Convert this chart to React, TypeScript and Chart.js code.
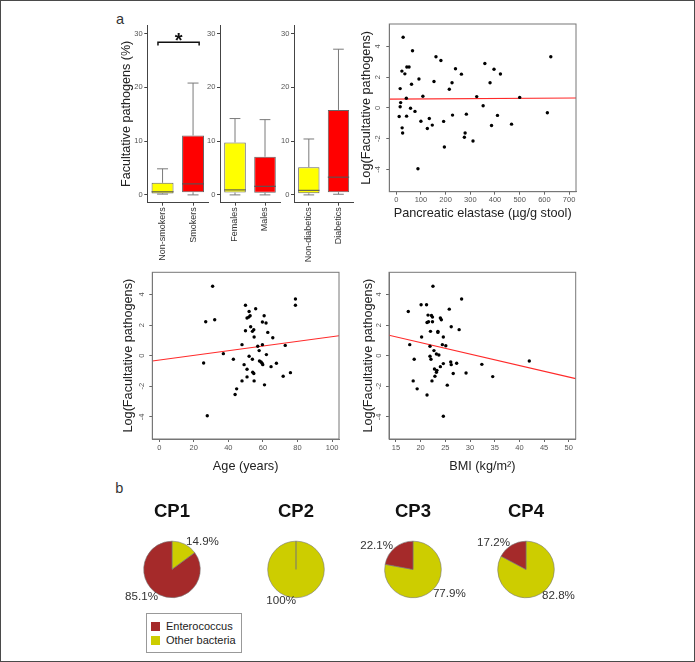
import React, { useEffect, useRef } from "react";
import { Chart, registerables } from "chart.js";

Chart.register(...registerables);

const FONT = "'Liberation Sans', Arial, Helvetica, sans-serif";
Chart.defaults.font.family = FONT;

// ---------- Panel a: box plots (Facultative pathogens %) ----------
const smokeCats = ["Non-smokers", "Smokers"];
const smokeMin = [0.15, 0.0];
const smokeQ1 = [0.28, 0.5];
const smokeMed = [0.58, 2.05];
const smokeQ3 = [2.25, 11.05];
const smokeMax = [4.85, 20.8];

const sexCats = ["Females", "Males"];
const sexMin = [0.0, 0.0];
const sexQ1 = [0.43, 0.4];
const sexMed = [0.93, 1.6];
const sexQ3 = [9.75, 7.1];
const sexMax = [14.2, 14.0];

const diabCats = ["Non-diabetics", "Diabetics"];
const diabMin = [0.0, 0.12];
const diabQ1 = [0.3, 0.5];
const diabMed = [0.85, 3.3];
const diabQ3 = [5.15, 15.8];
const diabMax = [10.4, 27.1];

const boxColors = ["#ffff00", "#ff0000"];
const boxTicks = [0, 10, 20, 30];
const boxRange = [-1.45, 31.6];
const sigFrom = -0.15;
const sigTo = 1.2;
const sigLevel = 28.4;
const sigLabel = "*";

// ---------- Scatter: pancreatic elastase ----------
const elastaseX = [28, 66, 161, 181, 43, 52, 23, 35, 92, 62, 16, 108, 41, 18, 16, 12, 42, 58, 76, 24, 26, 100, 134, 126, 146, 88, 153, 215, 226, 240, 264, 192, 228, 195, 279, 276, 284, 311, 326, 352, 359, 396, 380, 422, 410, 386, 467, 500, 612, 626];
const elastaseY = [4.59, 3.71, 3.32, 3.08, 2.66, 2.66, 2.39, 2.21, 1.88, 1.53, 1.25, 0.75, 0.62, 0.34, 0.07, -0.56, -0.54, -0.03, -0.23, -1.3, -1.63, -0.87, -0.69, -1.34, -1.12, -3.96, 1.71, 1.21, 1.63, 2.54, 2.19, -0.88, -0.47, -2.54, -1.63, -1.91, -0.41, -2.15, 0.73, 0.14, 2.88, 2.51, 1.63, 2.2, -0.49, -1.15, -1.06, 0.68, -0.32, 3.32];
const elastaseFitX = [-28, 728];
const elastaseFitY = [0.57, 0.64];
const elastaseTicks = [0, 100, 200, 300, 400, 500, 600, 700];
const elastaseRange = [-28, 728];

// ---------- Scatter: age ----------
const ageX = [30.9, 26.9, 32.1, 25.7, 27.8, 37.1, 42.9, 47.9, 49.1, 47.9, 44.8, 43.9, 49.9, 49.9, 50.8, 51.8, 52.0, 52.6, 52.9, 53.9, 54.7, 54.9, 55.8, 52.0, 50.8, 50.8, 53.9, 54.1, 54.7, 54.9, 57.0, 57.8, 58.0, 58.9, 59.5, 59.9, 59.7, 59.7, 60.7, 61.8, 62.0, 60.9, 62.8, 64.7, 65.7, 67.8, 71.7, 72.9, 75.9, 78.8, 78.8];
const ageY = [4.54, 2.22, 2.35, -0.48, -3.93, 0.13, -0.24, 0.72, -0.59, -1.65, -2.17, -2.54, 1.63, 3.3, 2.46, 2.52, 2.89, 2.61, 1.89, 1.59, 1.7, 1.22, 3.07, -0.04, -0.89, -1.39, -0.24, -1.09, -1.17, -1.65, 0.61, 0.33, -0.35, -0.41, -0.5, -0.59, 0.72, 2.2, 2.61, 2.13, 0.07, -1.91, 1.52, -0.72, 1.17, -0.5, -1.35, 0.67, -1.11, 3.7, 3.3];
const ageFitX = [-4, 104];
const ageFitY = [-0.35, 1.3];
const ageTicks = [0, 20, 40, 60, 80, 100];
const ageRange = [-4, 104];

// ---------- Scatter: BMI ----------
const bmiX = [22.5, 28.3, 17.5, 20.1, 21.2, 25.8, 21.5, 22.2, 22.4, 21.3, 21.6, 22.4, 24.0, 24.2, 26.2, 22.0, 23.5, 23.5, 27.8, 20.2, 24.6, 17.8, 21.9, 24.4, 25.1, 22.7, 23.2, 23.7, 21.9, 22.1, 18.7, 26.1, 26.2, 27.3, 24.6, 24.0, 32.4, 42.0, 22.8, 23.3, 23.2, 26.6, 29.2, 22.9, 34.6, 18.5, 22.3, 25.4, 19.3, 21.3, 24.6];
const bmiY = [4.54, 3.7, 2.89, 3.33, 3.33, 3.04, 2.65, 2.63, 2.52, 2.17, 2.22, 2.22, 2.46, 2.35, 1.89, 1.59, 1.59, 1.52, 1.7, 1.22, 1.22, 0.72, 0.61, 0.72, 0.65, 0.33, 0.11, 0.04, -0.04, -0.24, -0.24, -0.41, -0.59, -0.5, -0.52, -0.72, -0.57, -0.35, -0.87, -0.96, -1.09, -1.17, -1.13, -1.35, -1.37, -1.65, -1.65, -1.93, -2.17, -2.57, -3.96];
const bmiFitX = [13.6, 51.4];
const bmiFitY = [1.33, -1.5];
const bmiTicks = [15, 20, 25, 30, 35, 40, 45, 50];
const bmiRange = [13.6, 51.4];

const logTicks = [-4, -2, 0, 2, 4];
const logRange = [-5.45, 5.45];

// ---------- Panel b: pies ----------
const clusters = ["CP1", "CP2", "CP3", "CP4"];
const pieSeries = ["Enterococcus", "Other bacteria"];
const pieColors = ["#a52a2a", "#cdcd00"];
const enterococcusPct = [85.1, 0, 22.1, 17.2];
const otherPct = [14.9, 100, 77.9, 82.8];

// ---------------- plugins ----------------
function makeBoxPlugin(q1: number[], q3: number[], med: number[], mn: number[], mx: number[]) {
  return {
    id: "boxWhisker",
    afterDatasetsDraw(chart: any) {
      const { ctx } = chart;
      const y = chart.scales.y;
      const meta = chart.getDatasetMeta(0);
      ctx.save();
      meta.data.forEach((bar: any, i: number) => {
        const cx = bar.x;
        const w = bar.width;
        const yMax = y.getPixelForValue(mx[i]);
        const yMin = y.getPixelForValue(mn[i]);
        const yQ3 = y.getPixelForValue(q3[i]);
        const yQ1 = y.getPixelForValue(q1[i]);
        const yMed = y.getPixelForValue(med[i]);
        ctx.strokeStyle = "#7a7a7a";
        ctx.lineWidth = 1;
        ctx.beginPath();
        ctx.moveTo(cx, yQ3);
        ctx.lineTo(cx, yMax);
        ctx.moveTo(cx - w * 0.25, yMax);
        ctx.lineTo(cx + w * 0.25, yMax);
        ctx.moveTo(cx, yQ1);
        ctx.lineTo(cx, yMin);
        ctx.moveTo(cx - w * 0.25, yMin);
        ctx.lineTo(cx + w * 0.25, yMin);
        ctx.stroke();
        ctx.strokeStyle = "#555";
        ctx.lineWidth = 1.1;
        ctx.beginPath();
        ctx.moveTo(cx - w / 2, yMed);
        ctx.lineTo(cx + w / 2, yMed);
        ctx.stroke();
      });
      ctx.restore();
    },
  };
}

function makeBracketPlugin(from: number, to: number, level: number, label: string) {
  return {
    id: "sigBracket",
    afterDatasetsDraw(chart: any) {
      const { ctx } = chart;
      const x = chart.scales.x;
      const y = chart.scales.y;
      const x1 = x.getPixelForValue(from);
      const x2 = x.getPixelForValue(to);
      const yy = y.getPixelForValue(level);
      ctx.save();
      ctx.strokeStyle = "#111";
      ctx.lineWidth = 1.5;
      ctx.beginPath();
      ctx.moveTo(x1, yy + 3.3);
      ctx.lineTo(x1, yy);
      ctx.lineTo(x2, yy);
      ctx.lineTo(x2, yy + 3.3);
      ctx.stroke();
      ctx.fillStyle = "#111";
      ctx.font = `bold 20px ${FONT}`;
      ctx.textAlign = "center";
      ctx.textBaseline = "alphabetic";
      ctx.fillText(label, (x1 + x2) / 2, yy + 4.7);
      ctx.restore();
    },
  };
}

const framePlugin = {
  id: "frame",
  afterDraw(chart: any) {
    const { ctx, chartArea: a } = chart;
    ctx.save();
    ctx.strokeStyle = "#777";
    ctx.lineWidth = 1;
    ctx.strokeRect(a.left, a.top, a.right - a.left, a.bottom - a.top);
    ctx.restore();
  },
};

const pieLabelPlugin = {
  id: "pieLabels",
  afterDatasetsDraw(chart: any) {
    const { ctx } = chart;
    const meta = chart.getDatasetMeta(0);
    const values = chart.data.datasets[0].data;
    ctx.save();
    ctx.font = `11.6px ${FONT}`;
    ctx.fillStyle = "#333";
    ctx.textBaseline = "middle";
    meta.data.forEach((arc: any, i: number) => {
      const v = values[i];
      if (!v) return;
      const p = arc.getProps(["x", "y", "startAngle", "endAngle", "outerRadius"], true);
      const mid = (p.startAngle + p.endAngle) / 2;
      const r = p.outerRadius * 1.1;
      const px = p.x + r * Math.cos(mid);
      const py = p.y + r * Math.sin(mid);
      ctx.textAlign = Math.cos(mid) < 1e-9 ? "right" : "left";
      ctx.fillText(`${v}%`, px, py);
    });
    ctx.restore();
  },
};

// ---------------- configs ----------------
function boxConfig(
  cats: string[], q1: number[], q3: number[], med: number[], mn: number[], mx: number[],
  lay: { padLeft: number; padRight: number; yWidth: number; title: boolean; bracket: boolean }
) {
  const plugins: any[] = [makeBoxPlugin(q1, q3, med, mn, mx)];
  if (lay.bracket) plugins.push(makeBracketPlugin(sigFrom, sigTo, sigLevel, sigLabel));
  return {
    type: "bar",
    data: {
      labels: cats,
      datasets: [
        {
          data: cats.map((_, i) => [q1[i], q3[i]]),
          backgroundColor: boxColors,
          borderColor: "#666",
          borderWidth: 1,
          borderSkipped: false,
          barPercentage: 0.72,
          categoryPercentage: 1,
        },
      ],
    },
    options: {
      responsive: false,
      animation: false,
      events: [],
      layout: { padding: { left: lay.padLeft, right: lay.padRight, top: 15, bottom: 6.3 } },
      plugins: { legend: { display: false }, tooltip: { enabled: false } },
      scales: {
        x: {
          type: "category",
          offset: true,
          grid: { display: true, offset: false, drawOnChartArea: false, drawTicks: true, tickLength: 3, color: "#444" },
          border: { display: true, color: "#444", width: 1 },
          ticks: { autoSkip: false, minRotation: 90, maxRotation: 90, padding: 1.6, color: "#333", font: { family: FONT, size: 9 } },
          afterFit: (s: any) => { s.height = 66; },
        },
        y: {
          type: "linear",
          min: boxRange[0],
          max: boxRange[1],
          afterBuildTicks: (s: any) => { s.ticks = boxTicks.map((v) => ({ value: v })); },
          grid: { display: true, drawOnChartArea: false, drawTicks: true, tickLength: 3, color: "#444" },
          border: { display: true, color: "#444", width: 1 },
          ticks: { padding: 1.6, color: "#555", font: { family: FONT, size: 7.5 } },
          title: {
            display: lay.title,
            text: "Facultative pathogens (%)",
            color: "#222",
            font: { family: FONT, size: 12.6 },
            padding: 0,
          },
          afterFit: (s: any) => { s.width = lay.yWidth; },
        },
      },
    },
    plugins,
  };
}

function scatterConfig(
  xs: number[], ys: number[], fitX: number[], fitY: number[],
  xRange: number[], xTicks: number[], xTitle: string,
  lay: { padLeft: number; padRight: number; padTop: number; padBottom: number; yWidth: number; xHeight: number; xTickPad: number; yTickPad: number }
) {
  return {
    type: "scatter",
    data: {
      datasets: [
        {
          data: xs.map((x, i) => ({ x, y: ys[i] })),
          backgroundColor: "#000",
          borderWidth: 0,
          pointRadius: 1.7,
          order: 1,
        },
        {
          type: "line",
          data: fitX.map((x, i) => ({ x, y: fitY[i] })),
          borderColor: "#ff2a2a",
          borderWidth: 1.1,
          pointRadius: 0,
          fill: false,
          order: 2,
        },
      ],
    },
    options: {
      responsive: false,
      animation: false,
      events: [],
      layout: { padding: { left: lay.padLeft, right: lay.padRight, top: lay.padTop, bottom: lay.padBottom } },
      plugins: { legend: { display: false }, tooltip: { enabled: false } },
      scales: {
        x: {
          type: "linear",
          min: xRange[0],
          max: xRange[1],
          afterBuildTicks: (s: any) => { s.ticks = xTicks.map((v) => ({ value: v })); },
          grid: { display: true, drawOnChartArea: false, drawTicks: true, tickLength: 3, color: "#666" },
          border: { display: true, color: "#777", width: 1 },
          ticks: { autoSkip: false, minRotation: 0, maxRotation: 0, padding: lay.xTickPad, color: "#555", font: { family: FONT, size: 7.5 } },
          title: { display: true, text: xTitle, color: "#222", font: { family: FONT, size: 12.7 }, padding: 0 },
          afterFit: (s: any) => { s.height = lay.xHeight; },
        },
        y: {
          type: "linear",
          min: logRange[0],
          max: logRange[1],
          afterBuildTicks: (s: any) => { s.ticks = logTicks.map((v) => ({ value: v })); },
          grid: { display: true, drawOnChartArea: false, drawTicks: true, tickLength: 3, color: "#666" },
          border: { display: true, color: "#777", width: 1 },
          ticks: { autoSkip: false, minRotation: 90, maxRotation: 90, crossAlign: "center", padding: lay.yTickPad, color: "#555", font: { family: FONT, size: 7.5 } },
          title: { display: true, text: "Log(Facultative pathogens)", color: "#222", font: { family: FONT, size: 12.7 }, padding: 0 },
          afterFit: (s: any) => { s.width = lay.yWidth; },
        },
      },
    },
    plugins: [framePlugin],
  };
}

function pieConfig(idx: number) {
  return {
    type: "pie",
    data: {
      labels: [pieSeries[1], pieSeries[0]],
      datasets: [
        {
          data: [otherPct[idx], enterococcusPct[idx]],
          backgroundColor: [pieColors[1], pieColors[0]],
          borderColor: "#777",
          borderWidth: 0.6,
          hoverOffset: 0,
          offset: 0,
        },
      ],
    },
    options: {
      responsive: false,
      animation: false,
      events: [],
      layout: { padding: { left: 36.4, right: 36.4, top: 0, bottom: 21.8 } },
      plugins: {
        legend: { display: false },
        tooltip: { enabled: false },
        title: {
          display: true,
          text: clusters[idx],
          color: "#111",
          font: { family: FONT, size: 18.5, weight: "bold" },
          padding: { top: 10.6, bottom: 17.9 },
        },
      },
    },
    plugins: [pieLabelPlugin],
  };
}

// ---------------- components ----------------
function ChartCanvas({ left, top, width, height, make }: { left: number; top: number; width: number; height: number; make: () => any }) {
  const ref = useRef<HTMLCanvasElement | null>(null);
  useEffect(() => {
    const chart = new Chart(ref.current as HTMLCanvasElement, make());
    return () => chart.destroy();
  }, []);
  return (
    <canvas
      ref={ref}
      width={width}
      height={height}
      style={{ position: "absolute", left, top, width, height, display: "block" }}
    />
  );
}

const pieCenters = [171.7, 295.7, 413.3, 526];

export default function App() {
  return (
    <div style={{ position: "absolute", left: 0, top: 0, width: 695, height: 662, background: "#fff", fontFamily: FONT, overflow: "hidden" }}>
      <div style={{ position: "absolute", left: 0, top: 0, width: 695, height: 662, boxSizing: "border-box", border: "1.5px solid #4a4a4a" }} />

      <div style={{ position: "absolute", left: 116, top: 11, fontSize: 14.5, lineHeight: "16px", color: "#333" }}>a</div>
      <div style={{ position: "absolute", left: 115.3, top: 480.2, fontSize: 14.5, lineHeight: "16px", color: "#333" }}>b</div>

      <ChartCanvas left={95} top={10} width={118} height={265}
        make={() => boxConfig(smokeCats, smokeQ1, smokeQ3, smokeMed, smokeMin, smokeMax, { padLeft: 24.1, padRight: 4.7, yWidth: 28.2, title: true, bracket: true })} />
      <ChartCanvas left={200} top={10} width={87} height={265}
        make={() => boxConfig(sexCats, sexQ1, sexQ3, sexMed, sexMin, sexMax, { padLeft: 0, padRight: 7, yWidth: 20, title: false, bracket: false })} />
      <ChartCanvas left={274} top={10} width={87} height={265}
        make={() => boxConfig(diabCats, diabQ1, diabQ3, diabMed, diabMin, diabMax, { padLeft: 0, padRight: 7.7, yWidth: 20, title: false, bracket: false })} />

      <ChartCanvas left={355} top={5} width={235} height={220}
        make={() => scatterConfig(elastaseX, elastaseY, elastaseFitX, elastaseFitY, elastaseRange, elastaseTicks, "Pancreatic elastase (µg/g stool)",
          { padLeft: 4.1, padRight: 14, padTop: 19, padBottom: 4.1, yWidth: 30.2, xHeight: 29.2, xTickPad: 0.8, yTickPad: 4.67 })} />
      <ChartCanvas left={115} top={255} width={235} height={225}
        make={() => scatterConfig(ageX, ageY, ageFitX, ageFitY, ageRange, ageTicks, "Age (years)",
          { padLeft: 5.7, padRight: 11, padTop: 17.3, padBottom: 5.7, yWidth: 31.6, xHeight: 35.3, xTickPad: 1.8, yTickPad: 3.67 })} />
      <ChartCanvas left={355} top={255} width={235} height={225}
        make={() => scatterConfig(bmiX, bmiY, bmiFitX, bmiFitY, bmiRange, bmiTicks, "BMI (kg/m²)",
          { padLeft: 5.7, padRight: 14.3, padTop: 17.3, padBottom: 5.7, yWidth: 28.3, xHeight: 35.3, xTickPad: 1.8, yTickPad: 3.37 })} />

      {clusters.map((c, i) => (
        <ChartCanvas key={c} left={pieCenters[i] - 65} top={490} width={130} height={130} make={() => pieConfig(i)} />
      ))}

      <div style={{ position: "absolute", left: 145.7, top: 613.3, width: 96, height: 40, boxSizing: "border-box", border: "1px solid #999", background: "#fff" }}>
        {pieSeries.map((s, i) => (
          <div key={s} style={{ position: "absolute", left: 4.3, top: 7.7 + i * 14, height: 9, display: "flex", alignItems: "center", whiteSpace: "nowrap" }}>
            <span style={{ display: "inline-block", width: 9, height: 9, background: pieColors[i] }} />
            <span style={{ marginLeft: 6, fontSize: 11, lineHeight: "11px", color: "#222" }}>{s}</span>
          </div>
        ))}
      </div>
    </div>
  );
}
